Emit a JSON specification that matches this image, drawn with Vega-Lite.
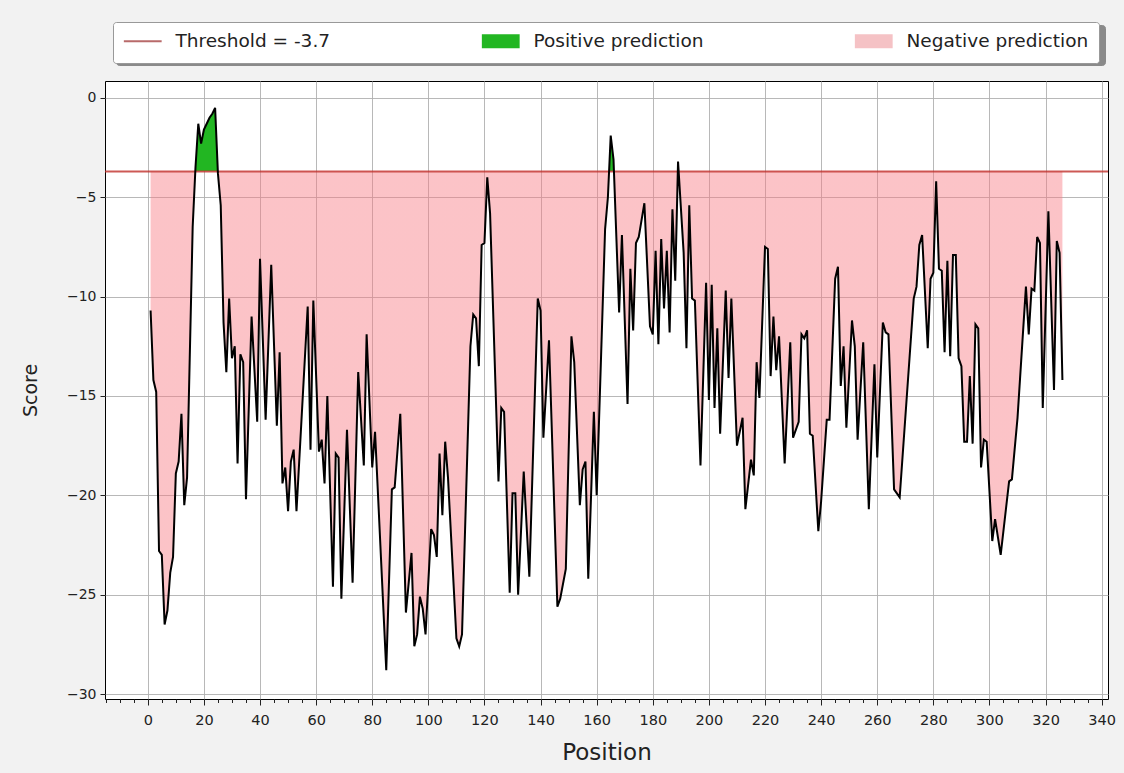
{
  "$schema": "https://vega.github.io/schema/vega-lite/v6.json",
  "width": 1003,
  "height": 618,
  "autosize": {"type": "none"},
  "padding": {"left": 105, "top": 81, "right": 16, "bottom": 74},
  "background": "#f2f2f2",
  "view": {"fill": "white", "stroke": "black", "strokeWidth": 1},
  "config": {
    "view": {"fill": "white", "stroke": "black", "strokeWidth": 1},
    "font": "DejaVu Sans",
    "axis": {
      "gridColor": "#b0b0b0",
      "gridWidth": 0.9,
      "domain": false,
      "tickColor": "#222",
      "tickWidth": 1,
      "labelColor": "#222",
      "labelFont": "DejaVu Sans",
      "labelFontSize": 14,
      "titleFont": "DejaVu Sans",
      "titleFontSize": 19,
      "titleFontWeight": "normal",
      "titleColor": "#222"
    },
    "legend": {
      "orient": "none",
      "direction": "horizontal",
      "columns": 3,
      "gridAlign": "none",
      "columnPadding": 146,
      "padding": 10,
      "cornerRadius": 3,
      "labelFont": "DejaVu Sans",
      "labelFontSize": 18.5,
      "labelLimit": 400,
      "labelOffset": 23.5,
      "symbolOffset": 10.5,
      "symbolSize": 196,
      "symbolStrokeWidth": 2,
      "symbolOpacity": 1
    }
  },
  "resolve": {"axis": {"x": "independent"}},
  "data": {
    "values": [
      {"pos": 1, "score": -10.7}, {"pos": 2, "score": -14.2}, {"pos": 3, "score": -14.8}, {"pos": 4, "score": -22.8},
      {"pos": 5, "score": -23.0}, {"pos": 6, "score": -26.5}, {"pos": 7, "score": -25.8}, {"pos": 8, "score": -23.9},
      {"pos": 9, "score": -23.1}, {"pos": 10, "score": -18.9}, {"pos": 11, "score": -18.3}, {"pos": 12, "score": -15.9},
      {"pos": 13, "score": -20.5}, {"pos": 14, "score": -19.1}, {"pos": 16, "score": -6.5}, {"pos": 17, "score": -3.5},
      {"pos": 18, "score": -1.3}, {"pos": 19, "score": -2.3}, {"pos": 20, "score": -1.6}, {"pos": 21, "score": -1.3},
      {"pos": 22, "score": -1.0}, {"pos": 23, "score": -0.8}, {"pos": 24, "score": -0.5}, {"pos": 25, "score": -3.8},
      {"pos": 26, "score": -5.4}, {"pos": 27, "score": -11.3}, {"pos": 28, "score": -13.8}, {"pos": 29, "score": -10.1},
      {"pos": 30, "score": -13.1}, {"pos": 31, "score": -12.5}, {"pos": 32, "score": -18.4}, {"pos": 33, "score": -12.9},
      {"pos": 34, "score": -13.3}, {"pos": 35, "score": -20.2}, {"pos": 37, "score": -11.0}, {"pos": 39, "score": -16.3},
      {"pos": 40, "score": -8.1}, {"pos": 42, "score": -16.2}, {"pos": 44, "score": -8.4}, {"pos": 46, "score": -16.5},
      {"pos": 47, "score": -12.8}, {"pos": 48, "score": -19.4}, {"pos": 49, "score": -18.6}, {"pos": 50, "score": -20.8},
      {"pos": 51, "score": -18.3}, {"pos": 52, "score": -17.7}, {"pos": 53, "score": -20.8}, {"pos": 57, "score": -10.5},
      {"pos": 58, "score": -17.7}, {"pos": 59, "score": -10.2}, {"pos": 61, "score": -17.8}, {"pos": 62, "score": -17.2},
      {"pos": 63, "score": -19.4}, {"pos": 64, "score": -15.0}, {"pos": 66, "score": -24.6}, {"pos": 67, "score": -17.9},
      {"pos": 68, "score": -18.1}, {"pos": 69, "score": -25.2}, {"pos": 71, "score": -16.7}, {"pos": 73, "score": -24.4},
      {"pos": 75, "score": -13.8}, {"pos": 77, "score": -18.5}, {"pos": 78, "score": -11.9}, {"pos": 80, "score": -18.6},
      {"pos": 81, "score": -16.8}, {"pos": 85, "score": -28.8}, {"pos": 87, "score": -19.7}, {"pos": 88, "score": -19.6},
      {"pos": 90, "score": -15.9}, {"pos": 92, "score": -25.9}, {"pos": 94, "score": -22.9}, {"pos": 95, "score": -27.6},
      {"pos": 96, "score": -27.0}, {"pos": 97, "score": -25.1}, {"pos": 98, "score": -25.7}, {"pos": 99, "score": -27.0},
      {"pos": 101, "score": -21.7}, {"pos": 102, "score": -22.0}, {"pos": 103, "score": -23.1}, {"pos": 104, "score": -17.9},
      {"pos": 105, "score": -21.0}, {"pos": 106, "score": -17.3}, {"pos": 107, "score": -19.1}, {"pos": 110, "score": -27.2},
      {"pos": 111, "score": -27.6}, {"pos": 112, "score": -27.0}, {"pos": 115, "score": -12.5}, {"pos": 116, "score": -10.9},
      {"pos": 117, "score": -11.1}, {"pos": 118, "score": -13.5}, {"pos": 119, "score": -7.4}, {"pos": 120, "score": -7.3},
      {"pos": 121, "score": -4.0}, {"pos": 122, "score": -5.8}, {"pos": 125, "score": -19.3}, {"pos": 126, "score": -15.6},
      {"pos": 127, "score": -15.8}, {"pos": 129, "score": -24.9}, {"pos": 130, "score": -19.9}, {"pos": 131, "score": -19.9},
      {"pos": 132, "score": -25.0}, {"pos": 134, "score": -18.8}, {"pos": 136, "score": -24.1}, {"pos": 139, "score": -10.1},
      {"pos": 140, "score": -10.7}, {"pos": 141, "score": -17.1}, {"pos": 143, "score": -12.2}, {"pos": 146, "score": -25.6},
      {"pos": 147, "score": -25.2}, {"pos": 149, "score": -23.7}, {"pos": 151, "score": -12.0}, {"pos": 152, "score": -13.3},
      {"pos": 154, "score": -20.5}, {"pos": 155, "score": -18.7}, {"pos": 156, "score": -18.3}, {"pos": 157, "score": -24.2},
      {"pos": 159, "score": -15.8}, {"pos": 160, "score": -20.0}, {"pos": 163, "score": -6.6}, {"pos": 164, "score": -5.0},
      {"pos": 165, "score": -1.9}, {"pos": 166, "score": -3.1}, {"pos": 168, "score": -10.8}, {"pos": 169, "score": -6.9},
      {"pos": 171, "score": -15.4}, {"pos": 172, "score": -8.6}, {"pos": 173, "score": -11.7}, {"pos": 174, "score": -7.3},
      {"pos": 175, "score": -7.0}, {"pos": 177, "score": -5.3}, {"pos": 179, "score": -11.5}, {"pos": 180, "score": -11.9},
      {"pos": 181, "score": -7.7}, {"pos": 182, "score": -12.4}, {"pos": 183, "score": -7.1}, {"pos": 184, "score": -10.6},
      {"pos": 185, "score": -7.7}, {"pos": 186, "score": -11.8}, {"pos": 187, "score": -5.6}, {"pos": 188, "score": -9.2},
      {"pos": 189, "score": -3.2}, {"pos": 191, "score": -7.8}, {"pos": 192, "score": -12.6}, {"pos": 193, "score": -5.4},
      {"pos": 194, "score": -10.1}, {"pos": 195, "score": -10.2}, {"pos": 197, "score": -18.5}, {"pos": 199, "score": -9.3},
      {"pos": 200, "score": -15.2}, {"pos": 201, "score": -9.4}, {"pos": 202, "score": -15.6}, {"pos": 203, "score": -11.6},
      {"pos": 204, "score": -16.9}, {"pos": 206, "score": -9.7}, {"pos": 207, "score": -14.1}, {"pos": 208, "score": -10.1},
      {"pos": 210, "score": -17.5}, {"pos": 212, "score": -16.1}, {"pos": 213, "score": -20.7}, {"pos": 215, "score": -18.2},
      {"pos": 216, "score": -19.0}, {"pos": 217, "score": -13.3}, {"pos": 218, "score": -15.1}, {"pos": 220, "score": -7.5},
      {"pos": 221, "score": -7.6}, {"pos": 222, "score": -14.0}, {"pos": 223, "score": -11.0}, {"pos": 224, "score": -13.7},
      {"pos": 225, "score": -12.0}, {"pos": 227, "score": -18.4}, {"pos": 229, "score": -12.3}, {"pos": 230, "score": -17.1},
      {"pos": 232, "score": -16.3}, {"pos": 233, "score": -11.9}, {"pos": 234, "score": -12.1}, {"pos": 235, "score": -11.7},
      {"pos": 236, "score": -16.9}, {"pos": 237, "score": -17.0}, {"pos": 239, "score": -21.8}, {"pos": 240, "score": -20.3},
      {"pos": 242, "score": -16.2}, {"pos": 243, "score": -16.2}, {"pos": 245, "score": -9.1}, {"pos": 246, "score": -8.5},
      {"pos": 247, "score": -14.5}, {"pos": 248, "score": -12.5}, {"pos": 249, "score": -16.6}, {"pos": 251, "score": -11.2},
      {"pos": 252, "score": -12.5}, {"pos": 253, "score": -17.2}, {"pos": 255, "score": -12.3}, {"pos": 257, "score": -20.7},
      {"pos": 259, "score": -13.4}, {"pos": 260, "score": -18.1}, {"pos": 262, "score": -11.3}, {"pos": 263, "score": -11.8},
      {"pos": 264, "score": -11.9}, {"pos": 266, "score": -19.7}, {"pos": 268, "score": -20.1}, {"pos": 273, "score": -10.1},
      {"pos": 274, "score": -9.5}, {"pos": 275, "score": -7.4}, {"pos": 276, "score": -6.9}, {"pos": 278, "score": -12.6},
      {"pos": 279, "score": -9.1}, {"pos": 280, "score": -8.8}, {"pos": 281, "score": -4.2}, {"pos": 282, "score": -8.6},
      {"pos": 283, "score": -8.7}, {"pos": 284, "score": -12.8}, {"pos": 285, "score": -8.2}, {"pos": 286, "score": -13.0},
      {"pos": 287, "score": -7.9}, {"pos": 288, "score": -7.9}, {"pos": 289, "score": -13.1}, {"pos": 290, "score": -13.5},
      {"pos": 291, "score": -17.3}, {"pos": 292, "score": -17.3}, {"pos": 293, "score": -14.0}, {"pos": 294, "score": -17.4},
      {"pos": 295, "score": -11.4}, {"pos": 296, "score": -11.6}, {"pos": 297, "score": -18.6}, {"pos": 298, "score": -17.2},
      {"pos": 299, "score": -17.3}, {"pos": 301, "score": -22.3}, {"pos": 302, "score": -21.2}, {"pos": 304, "score": -23.0},
      {"pos": 307, "score": -19.3}, {"pos": 308, "score": -19.2}, {"pos": 310, "score": -16.1}, {"pos": 313, "score": -9.5},
      {"pos": 314, "score": -11.9}, {"pos": 315, "score": -9.6}, {"pos": 316, "score": -9.7}, {"pos": 317, "score": -7.0},
      {"pos": 318, "score": -7.3}, {"pos": 319, "score": -15.6}, {"pos": 321, "score": -5.7}, {"pos": 323, "score": -14.7},
      {"pos": 324, "score": -7.2}, {"pos": 325, "score": -7.8}, {"pos": 326, "score": -14.2}
    ]
  },
  "layer": [
    {
      "mark": {
        "type": "area",
        "fill": {
          "gradient": "linear",
          "x1": 0, "y1": 0, "x2": 0, "y2": 1,
          "stops": [
            {"offset": 0, "color": "#22b622"},
            {"offset": 0.11307, "color": "#22b622"},
            {"offset": 0.11307, "color": "rgba(248,122,131,0.45)"},
            {"offset": 1, "color": "rgba(248,122,131,0.45)"}
          ]
        }
      },
      "encoding": {
        "x": {
          "field": "pos",
          "type": "quantitative",
          "scale": {"domain": [-15.25, 342.25], "nice": false, "zero": false},
          "axis": {
            "orient": "bottom",
            "values": [0, 20, 40, 60, 80, 100, 120, 140, 160, 180, 200, 220, 240, 260, 280, 300, 320, 340],
            "grid": true,
            "tickSize": 6,
            "labelFontSize": 14.5,
            "labelOverlap": false,
            "labelFlush": false,
            "labelPadding": 8,
            "title": "Position",
            "titleFontSize": 23,
            "titlePadding": 15
          }
        },
        "y": {
          "field": "score",
          "type": "quantitative",
          "scale": {"domain": [-30.25, 0.85], "nice": false, "zero": false},
          "axis": {
            "values": [-30, -25, -20, -15, -10, -5, 0],
            "grid": true,
            "tickSize": 5,
            "labelPadding": 4,
            "title": "Score",
            "titlePadding": 26
          }
        },
        "y2": {"datum": -3.7}
      }
    },
    {
      "data": {"values": [{}]},
      "mark": {"type": "rule", "strokeWidth": 2, "color": "#c0302b", "opacity": 0.8},
      "encoding": {"y": {"datum": -3.7}}
    },
    {
      "mark": {"type": "line", "color": "black", "strokeWidth": 2},
      "encoding": {
        "x": {
          "field": "pos",
          "type": "quantitative",
          "axis": {
            "orient": "bottom",
            "values": [-15, -10, -5, 0, 5, 10, 15, 20, 25, 30, 35, 40, 45, 50, 55, 60, 65, 70, 75, 80, 85, 90, 95, 100, 105, 110, 115, 120, 125, 130, 135, 140, 145, 150, 155, 160, 165, 170, 175, 180, 185, 190, 195, 200, 205, 210, 215, 220, 225, 230, 235, 240, 245, 250, 255, 260, 265, 270, 275, 280, 285, 290, 295, 300, 305, 310, 315, 320, 325, 330, 335, 340],
            "labels": false,
            "grid": false,
            "title": null,
            "tickSize": 3.5
          }
        },
        "y": {"field": "score", "type": "quantitative"}
      }
    },
    {
      "data": {"values": [{}]},
      "mark": {"type": "point", "filled": true, "opacity": 0},
      "encoding": {
        "fill": {
          "datum": "Threshold = -3.7",
          "type": "nominal",
          "scale": {
            "domain": ["Threshold = -3.7", "Positive prediction", "Negative prediction"],
            "range": ["transparent", "#22b622", "#f5c2c5"]
          },
          "legend": {"legendX": 8, "legendY": -59, "zindex": 2, "title": null, "fillColor": "white", "strokeColor": "#999999", "labelColor": "#222"}
        },
        "stroke": {
          "datum": "Threshold = -3.7",
          "type": "nominal",
          "scale": {
            "domain": ["Threshold = -3.7", "Positive prediction", "Negative prediction"],
            "range": ["#b86a6a", "transparent", "transparent"]
          },
          "legend": {"legendX": 8, "legendY": -59, "zindex": 2, "title": null, "fillColor": "white", "strokeColor": "#999999", "labelColor": "#222"}
        },
        "shape": {
          "datum": "Threshold = -3.7",
          "type": "nominal",
          "scale": {
            "domain": ["Threshold = -3.7", "Positive prediction", "Negative prediction"],
            "range": ["M-2.7,0H2.7", "M-2.7,-1H2.7V1H-2.7Z", "M-2.7,-1H2.7V1H-2.7Z"]
          },
          "legend": {"legendX": 8, "legendY": -59, "zindex": 2, "title": null, "fillColor": "white", "strokeColor": "#999999", "labelColor": "#222"}
        }
      }
    },
    {
      "data": {"values": [{}]},
      "mark": {"type": "square", "opacity": 0},
      "encoding": {
        "color": {
          "datum": 0.5,
          "type": "quantitative",
          "scale": {"domain": [0, 1], "range": ["#8a8a8a", "#8a8a8a"]},
          "legend": {
            "legendX": 11,
            "legendY": -56,
            "zindex": 1,
            "title": null,
            "direction": "horizontal",
            "gradientLength": 969,
            "gradientThickness": 19,
            "gradientStrokeWidth": 0,
            "labelExpr": "''",
            "labelFontSize": 1,
            "labelOffset": 0,
            "labelOpacity": 0,
            "fillColor": "#8a8a8a",
            "strokeColor": "#8a8a8a"
          }
        }
      }
    }
  ]
}
